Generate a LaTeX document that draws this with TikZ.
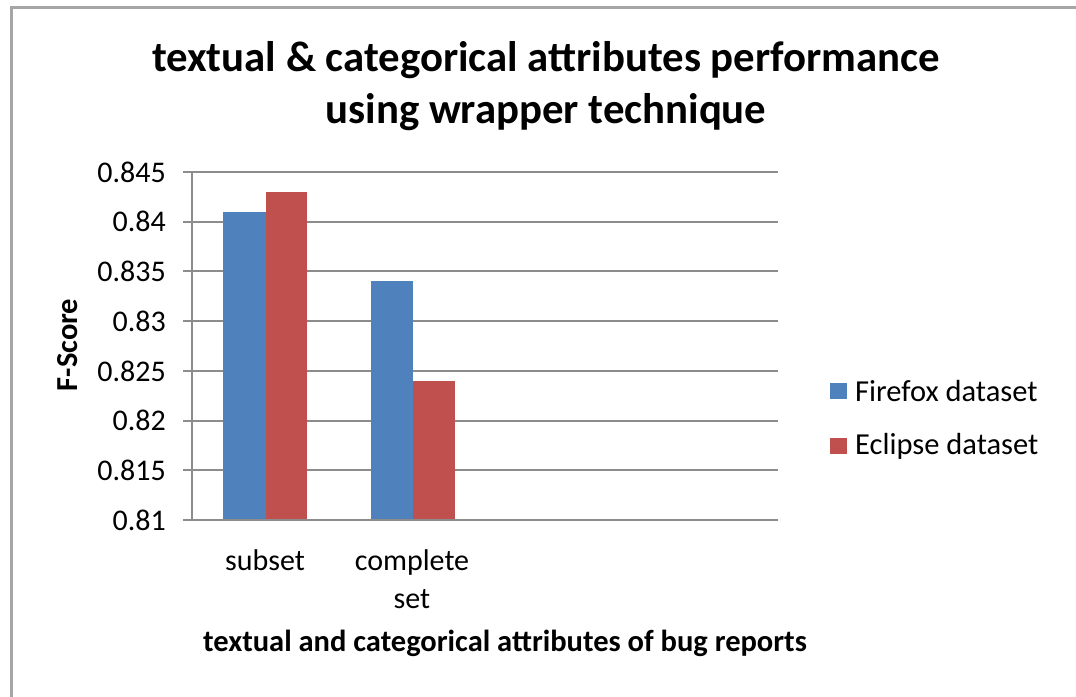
\documentclass[tikz,border=0pt]{standalone}
\usepackage{fontspec}
\setmainfont{Carlito}
\definecolor{ffblue}{HTML}{4F81BD}
\definecolor{ecred}{HTML}{C0504D}
\definecolor{gridgray}{HTML}{8C8C8C}
\definecolor{framegray}{HTML}{A6A6A6}
\tikzset{
  gridline/.style={draw=gridgray, line width=2pt},
  ticklabel/.style={anchor=east, inner sep=0pt, font=\fontsize{30}{35}\selectfont},
  catlabel/.style={anchor=center, inner sep=0pt, font=\fontsize{30}{38}\selectfont, align=center},
  legtext/.style={anchor=west, inner sep=0pt, font=\fontsize{30.5}{35}\selectfont},
  axtitle/.style={inner sep=0pt, font=\bfseries\fontsize{30.5}{35}\selectfont},
  barA/.style={fill=ffblue, draw=none},
  barB/.style={fill=ecred, draw=none},
}
\begin{document}
\begin{tikzpicture}[x=1pt, y=-1pt]
\useasboundingbox (0,0) rectangle (1076,696);
\fill[white] (0,0) rectangle (1076,696);
% chart frame (runs off the right and bottom edges)
\draw[framegray, line width=3pt] (11,700) -- (11,7) -- (1080,7);

% title
\node[inner sep=0pt, align=center, font=\bfseries\fontsize{42.8}{52}\selectfont] (title) at (546,86)
  {textual \& categorical attributes performance\\using wrapper technique};

% horizontal gridlines and value labels
\foreach \yy/\lab [count=\i] in {520/0.81, 470.3/0.815, 420.6/0.82, 370.9/0.825, 321.2/0.83, 271.4/0.835, 221.7/0.84, 172/0.845}{
  \draw[gridline] (183,\yy) -- (778,\yy);
  \node[ticklabel] (tick\i) at (166,\yy) {\lab};
}
% value axis
\draw[gridline] (192,172) -- (192,520);

% bars
\fill[barA] (223,520) rectangle (265.5,211.8);
\fill[barB] (265.5,520) rectangle (307,191.9);
\fill[barA] (371,520) rectangle (413,281.4);
\fill[barB] (413,520) rectangle (455,380.8);
\draw[gridline] (183,520) -- (778,520);

% category labels
\node[catlabel] (cat1) at (265,560) {subset};
\node[catlabel] (cat2) at (412,579) {complete\\set};

% axis titles
\node[axtitle] (xtitle) at (505,643) {textual and categorical attributes of bug reports};
\node[axtitle, rotate=90] (ytitle) at (68,345) {F-Score};

% legend
\fill[ffblue] (830,383) rectangle (847,399);
\node[legtext] (leg1) at (855,391) {Firefox dataset};
\fill[ecred] (830,438) rectangle (847,454);
\node[legtext] (leg2) at (855,446) {Eclipse dataset};
\end{tikzpicture}
\end{document}
